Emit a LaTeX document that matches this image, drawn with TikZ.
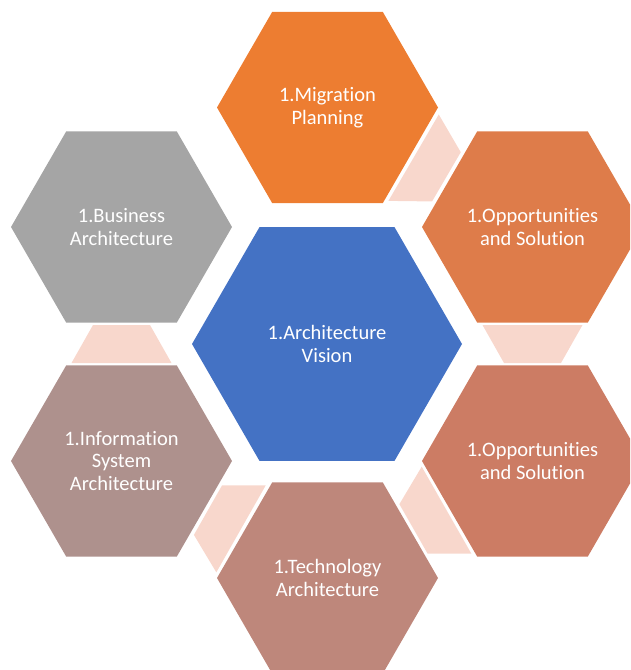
\documentclass[tikz,border=0pt]{standalone}
\usepackage{fontspec}
\setmainfont{Carlito}[Ligatures={NoCommon,NoRequired,NoContextual}]
\usetikzlibrary{shapes.geometric,calc}

\definecolor{visionblue}{HTML}{4472C4}
\definecolor{migorange}{HTML}{ED7D31}
\definecolor{oppone}{HTML}{DE7C4A}
\definecolor{opptwo}{HTML}{CC7C64}
\definecolor{techbrown}{HTML}{BE877B}
\definecolor{infomauve}{HTML}{AE918D}
\definecolor{busgray}{HTML}{A5A5A5}
\definecolor{linkpink}{HTML}{F8D7CC}

\begin{document}
\begin{tikzpicture}[x=1pt,y=-1pt,
  hexa/.style={regular polygon,regular polygon sides=6,minimum size=221pt,
    inner sep=0pt,outer sep=0pt,text=white,align=center,
    font=\fontsize{20.5}{22.5}\selectfont},
  link/.style={fill=linkpink}]
\useasboundingbox (0,0) rectangle (630,670);
\clip (0,0) rectangle (630,670);

\node[hexa,fill=visionblue,minimum size=270pt] (vision) at (327,344) {1.Architecture\\Vision};

\node[hexa,fill=migorange] (migration) at (327.5,107.5) {1.Migration\\Planning};
\node[hexa,fill=oppone] (opp1) at (532.5,227) {1.Opportunities\\and Solution};
\node[hexa,fill=opptwo] (opp2) at (532.5,461) {1.Opportunities\\and Solution};
\node[hexa,fill=techbrown] (tech) at (327.5,578) {1.Technology\\Architecture};
\node[hexa,fill=infomauve] (info) at (121.5,461) {1.Information\\System\\Architecture};
\node[hexa,fill=busgray] (business) at (121.5,227) {1.Business\\Architecture};

% links between neighbours, wide end at the source
\foreach \a/\b in {migration/opp1,opp1/opp2,opp2/tech,tech/info,info/business}{
  \path ($(\a)!0.5!(\b)!19pt!(\a)$) coordinate (src)
        ($(\a)!0.5!(\b)!19pt!(\b)$) coordinate (dst);
  \fill[link] ($(src)!50pt!90:(\b)$) -- ($(dst)!28.5pt!90:(\b)$)
    -- ($(dst)!28.5pt!-90:(\b)$) -- ($(src)!50pt!-90:(\b)$) -- cycle;
}
\end{tikzpicture}
\end{document}
